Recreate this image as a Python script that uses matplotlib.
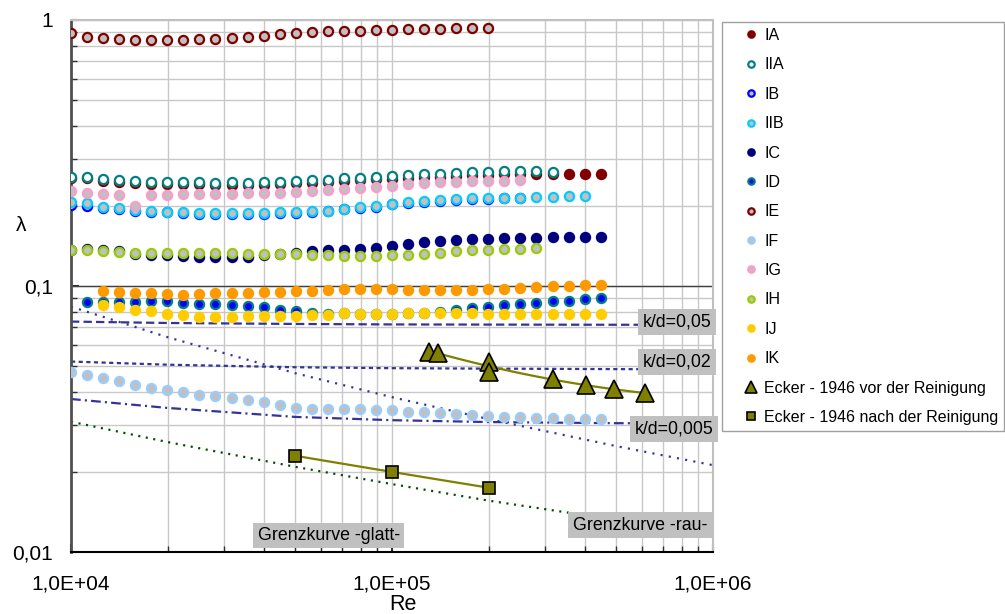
import matplotlib
matplotlib.use('Agg')
import matplotlib.pyplot as plt
from matplotlib.ticker import LogLocator, NullFormatter
import numpy as np

plt.rcParams['font.family'] = ['Liberation Sans', 'DejaVu Sans']
plt.rcParams['lines.scale_dashes'] = False

# Re positions of the measured points
re_pts = [10000, 11220, 12589, 14125, 15849, 17783, 19953, 22387, 25119, 28184,
          31623, 35481, 39811, 44668, 50119, 56234, 63096, 70795, 79433, 89125,
          100000, 112202, 125893, 141254, 158489, 177828, 199526, 223872, 251189,
          281838, 316228, 354813, 398107, 446684]

# lambda values of each series, (first index in re_pts, values)
ia = [0.254, 0.254, 0.249, 0.246, 0.244, 0.242, 0.241, 0.241, 0.241, 0.239, 0.240,
      0.239, 0.240, 0.241, 0.243, 0.244, 0.246, 0.248, 0.250, 0.252, 0.253, 0.255,
      0.257, 0.258, 0.260, 0.262, 0.262, 0.263, 0.264, 0.264, 0.264, 0.264, 0.264, 0.264]
iia = [0.258, 0.258, 0.252, 0.250, 0.248, 0.246, 0.245, 0.245, 0.245, 0.244, 0.245,
       0.244, 0.245, 0.246, 0.249, 0.250, 0.251, 0.254, 0.255, 0.258, 0.259, 0.262,
       0.263, 0.264, 0.266, 0.268, 0.268, 0.270, 0.270, 0.270, 0.269]
ib = [0.2016, 0.200, 0.196, 0.194, 0.192, 0.190, 0.189, 0.188, 0.187, 0.187, 0.187,
      0.187, 0.187, 0.188, 0.188, 0.190, 0.191, 0.194, 0.197, 0.199, 0.203, 0.205,
      0.207, 0.209, 0.211, 0.212, 0.213, 0.214, 0.214]
iib = [0.2075, 0.2046, 0.1987, 0.196, 0.193, 0.192, 0.1903, 0.189, 0.1887, 0.188,
       0.188, 0.188, 0.1887, 0.189, 0.1897, 0.191, 0.192, 0.1948, 0.198, 0.2004, 0.204,
       0.2063, 0.2091, 0.2112, 0.2124, 0.2138, 0.2143, 0.215, 0.215, 0.216, 0.2167,
       0.2175, 0.218]
ic = [0.1366, 0.1374, 0.1366, 0.1355, 0.1319, 0.1308, 0.1308, 0.1300, 0.1289, 0.1289,
      0.1282, 0.1289, 0.1308, 0.1319, 0.1327, 0.1358, 0.1360, 0.1366, 0.1374, 0.1390,
      0.1413, 0.1435, 0.1463, 0.1472, 0.1490, 0.1498, 0.1506, 0.1510, 0.1515, 0.1515,
      0.1528, 0.1528, 0.1528, 0.1528]
id_ = [0.0868, 0.0871, 0.0871, 0.0873, 0.0878, 0.0880, 0.0866, 0.0858, 0.0858, 0.0849,
       0.0841, 0.0832, 0.0812, 0.0803, 0.0789, 0.0787, 0.0789, 0.0787, 0.0787, 0.0787,
       0.0789, 0.0794, 0.0800, 0.0812, 0.0824, 0.0836, 0.0849, 0.0856, 0.0866, 0.0876,
       0.0880, 0.0891, 0.0901]
ie = [0.891, 0.861, 0.856, 0.848, 0.841, 0.839, 0.839, 0.841, 0.846, 0.850, 0.856,
      0.866, 0.873, 0.886, 0.891, 0.904, 0.907, 0.909, 0.912, 0.917, 0.920, 0.923,
      0.925, 0.928, 0.931, 0.931, 0.933]
if_ = [0.0475, 0.0462, 0.0450, 0.0439, 0.0426, 0.0415, 0.0407, 0.0398, 0.0390, 0.0385,
       0.0379, 0.0373, 0.0365, 0.0356, 0.0348, 0.0346, 0.0346, 0.0345, 0.0344, 0.0343,
       0.0342, 0.0337, 0.0335, 0.0332, 0.0331, 0.0328, 0.0325, 0.0322, 0.0321, 0.0320,
       0.0318, 0.0317, 0.0317, 0.0317]
ig = [0.228, 0.223, 0.222, 0.219, 0.200, 0.2205, 0.2205, 0.221, 0.221, 0.222, 0.2225,
      0.223, 0.223, 0.2243, 0.2256, 0.227, 0.229, 0.231, 0.233, 0.235, 0.238, 0.241,
      0.2445, 0.2453, 0.2466, 0.248, 0.2487, 0.2487, 0.2496]
ih = [0.1366, 0.1366, 0.1358, 0.1347, 0.1331, 0.1327, 0.1327, 0.1331, 0.1335, 0.1335,
      0.1327, 0.1323, 0.1319, 0.1319, 0.1315, 0.1311, 0.1304, 0.1297, 0.1297, 0.1300,
      0.1308, 0.1311, 0.1319, 0.1327, 0.1351, 0.1362, 0.1366, 0.1374, 0.1377, 0.1386]
ij = [0.0849, 0.0832, 0.0815, 0.0803, 0.0787, 0.0776, 0.0763, 0.0767, 0.0767, 0.0769,
      0.0771, 0.0773, 0.0773, 0.0776, 0.0776, 0.0789, 0.0787, 0.0787, 0.0787, 0.0789,
      0.0791, 0.0791, 0.0791, 0.0789, 0.0785, 0.0785, 0.0785, 0.0785, 0.0785, 0.0785,
      0.0785, 0.0785]
ik = [0.0960, 0.0947, 0.0944, 0.0939, 0.0933, 0.0927, 0.0933, 0.0939, 0.0944, 0.0944,
      0.0949, 0.0952, 0.0955, 0.0960, 0.0966, 0.0972, 0.0972, 0.0972, 0.0972, 0.0966,
      0.0966, 0.0963, 0.0963, 0.0968, 0.0972, 0.0977, 0.0983, 0.0989, 0.0997, 0.1003,
      0.1009, 0.1011]

# Ecker 1946
ecker_vor_re = [130000, 139000, 200000, 200000, 318000, 402000, 493000, 614000]
ecker_vor_l = [0.0566, 0.0561, 0.0519, 0.0476, 0.0447, 0.0425, 0.0409, 0.0395]
ecker_nach_re = [50000, 100000, 200000]
ecker_nach_l = [0.0230, 0.0200, 0.01745]

# reference curves
re_ref = [1e4, 2e4, 5e4, 1e5, 2e5, 5e5, 1e6]
kd_005 = [0.0735, 0.0726, 0.0720, 0.0717, 0.0716, 0.0715, 0.0715]
kd_002 = [0.0520, 0.0506, 0.0495, 0.0491, 0.0489, 0.0487, 0.0486]
kd_0005 = [0.0376, 0.0348, 0.0322, 0.0313, 0.0308, 0.0305, 0.0304]
glatt = [0.0309, 0.0259, 0.0209, 0.0180, 0.0156, 0.0132, 0.0116]
rau = [0.0836, 0.0642, 0.0470, 0.0382, 0.0316, 0.0250, 0.0212]

grey = '#C0C0C0'
series = [
    ('IA', 0, ia, '#800000', '#800000'),
    ('IIA', 0, iia, 'white', '#008080'),
    ('IB', 0, ib, grey, '#0000FF'),
    ('IIB', 0, iib, grey, '#00CCFF'),
    ('IC', 0, ic, '#000080', '#000080'),
    ('ID', 1, id_, '#0000FF', '#008080'),
    ('IE', 0, ie, grey, '#800000'),
    ('IF', 0, if_, grey, '#99CCFF'),
    ('IG', 0, ig, grey, '#FF99CC'),
    ('IH', 0, ih, grey, '#99CC00'),
    ('IJ', 2, ij, '#FFCC00', '#FFCC00'),
    ('IK', 2, ik, '#FF9900', '#FF9900'),
]

fig = plt.figure(figsize=(10.05, 6.14), dpi=100)
ax = fig.add_axes([71 / 1005, 1 - 552 / 614, 642 / 1005, 532 / 614])
ax.set_xscale('log')
ax.set_yscale('log')

navy = '#333399'
ax.plot(re_ref, kd_005, color=navy, lw=1.6, dashes=(6, 3), zorder=2)
ax.plot(re_ref, kd_002, color=navy, lw=1.6, dashes=(3, 2.5), zorder=2)
ax.plot(re_ref, kd_0005, color=navy, lw=1.6, dashes=(7, 3, 1.5, 3), zorder=2)
ax.plot(re_ref, rau, color=navy, lw=1.6, dashes=(1.5, 4.5), zorder=2)
ax.plot(re_ref, glatt, color='#004D00', lw=1.6, dashes=(1.5, 4), zorder=2)

for name, start, vals, fc, ec in series:
    ax.plot(re_pts[start:start + len(vals)], vals, linestyle='none', marker='o',
            ms=6.6, mew=1.6, mfc=fc, mec=ec, label=name, zorder=3)

# smoothed lines through the Ecker points (log-log fit)
lx = np.log10(ecker_vor_re[1:])
ly = np.log10(ecker_vor_l[1:])
c = np.polyfit(lx, ly, 2)
xs = np.linspace(lx[0], lx[-1], 60)
ax.plot(10 ** xs, 10 ** np.polyval(c, xs), color='#808000', lw=1.6, zorder=3)
lx = np.log10(ecker_nach_re)
ly = np.log10(ecker_nach_l)
c = np.polyfit(lx, ly, 2)
xs = np.linspace(lx[0], lx[-1], 60)
ax.plot(10 ** xs, 10 ** np.polyval(c, xs), color='#808000', lw=1.6, zorder=3)

ax.plot(ecker_vor_re, ecker_vor_l, linestyle='none', marker='^', ms=13, mfc='#808000',
        mec='black', mew=1.2, label='Ecker - 1946 vor der Reinigung', zorder=4)
ax.plot(ecker_nach_re, ecker_nach_l, linestyle='none', marker='s', ms=8, mfc='#808000',
        mec='black', mew=1.2, label='Ecker - 1946 nach der Reinigung', zorder=4)

box = dict(boxstyle='square,pad=0.25', facecolor='#C0C0C0', edgecolor='none')
for txt, x, y in [('k/d=0,05', 6.05e5, 0.0732), ('k/d=0,02', 6.05e5, 0.0518),
                  ('k/d=0,005', 5.71e5, 0.0291), ('Grenzkurve -rau-', 3.66e5, 0.01263),
                  ('Grenzkurve -glatt-', 3.82e4, 0.01153)]:
    ax.text(x, y, txt, fontsize=12.8, ha='left', va='center', bbox=box, zorder=5)

ax.set_xlim(1e4, 1e6)
ax.set_ylim(0.01, 1)
ax.set_xticks([1e4, 1e5, 1e6])
ax.set_xticklabels(['1,0E+04', '1,0E+05', '1,0E+06'])
ax.set_yticks([0.01, 0.1, 1])
ax.set_yticklabels(['0,01', '0,1', '1'])
ax.xaxis.set_minor_locator(LogLocator(base=10, subs=range(2, 10)))
ax.yaxis.set_minor_locator(LogLocator(base=10, subs=range(2, 10)))
ax.xaxis.set_minor_formatter(NullFormatter())
ax.yaxis.set_minor_formatter(NullFormatter())
ax.tick_params(which='major', direction='in', length=6, width=1.5, labelsize=15,
               color='#303030')
ax.tick_params(axis='x', which='major', pad=16)
ax.tick_params(axis='y', which='major', pad=13)
ax.tick_params(which='minor', direction='in', length=4, width=1, color='#303030')

ax.grid(True, which='both', color='#C8C8C8', lw=1.0)
ax.set_axisbelow(True)
ax.axhline(0.1, color='#404040', lw=1.0, zorder=1.5)

for s in ['top', 'right']:
    ax.spines[s].set_color('#C0C0C0')
    ax.spines[s].set_linewidth(1.5)
ax.spines['left'].set_color('#505050')
ax.spines['left'].set_linewidth(2)
ax.spines['bottom'].set_color('black')
ax.spines['bottom'].set_linewidth(1.5)

fig.text(21 / 1005, 1 - 226 / 614, 'λ', fontsize=15, ha='center', va='center')
fig.text(403 / 1005, 1 - 604 / 614, 'Re', fontsize=15.5, ha='center', va='center')

leg = fig.legend(loc='upper left', bbox_to_anchor=(722 / 1005, 1 - 22 / 614),
                 borderaxespad=0, fontsize=11.5, frameon=True, fancybox=False,
                 edgecolor='#A0A0A0', framealpha=1, markerscale=0.7,
                 handlelength=2.9, handletextpad=-0.65, labelspacing=0.9,
                 borderpad=0.38)
leg.get_frame().set_linewidth(1.0)

fig.savefig('out.png', dpi=100)
